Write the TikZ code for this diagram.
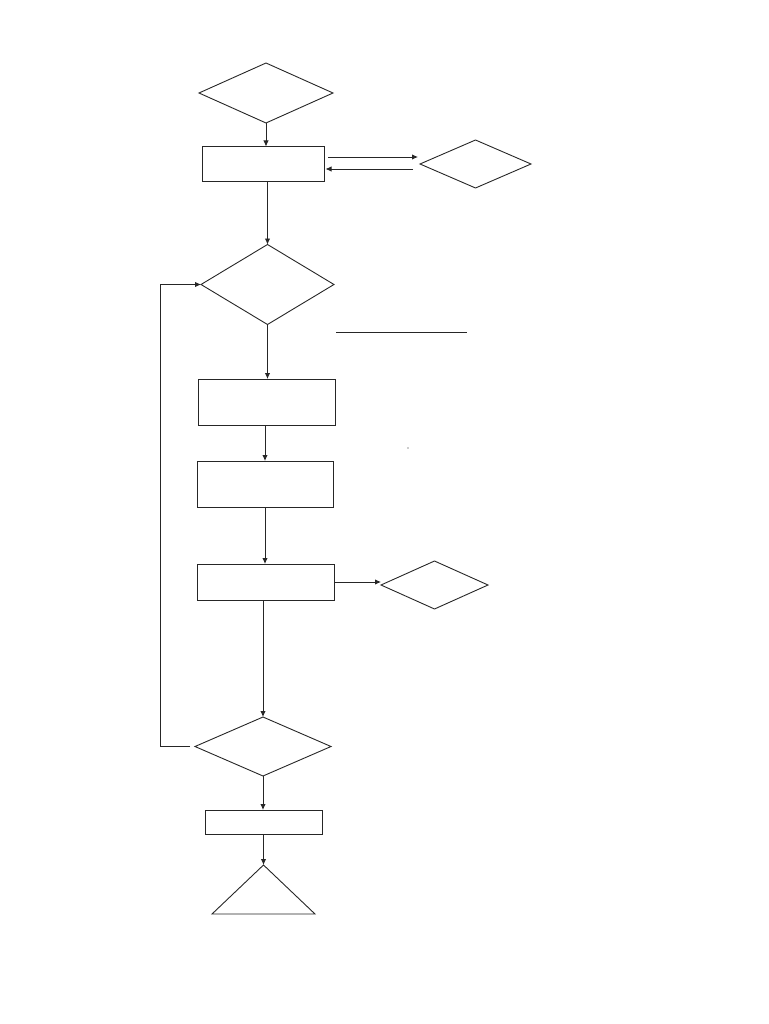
\documentclass[tikz,border=0pt]{standalone}
\usetikzlibrary{shapes.geometric,arrows.meta,calc}
\begin{document}
\begin{tikzpicture}[x=1pt,y=-1pt,
  line width=0.9pt,
  color=black!85,
  box/.style={draw,rectangle,inner sep=0,outer sep=0},
  dia/.style={draw,diamond,inner sep=0,outer sep=0},
  tri/.style={draw,isosceles triangle,isosceles triangle stretches,shape border rotate=90,inner sep=0,outer sep=0,minimum width=103pt,minimum height=49pt},
  arr/.style={-{Latex[length=6pt,width=5.5pt]}}]
\useasboundingbox (0,0) rectangle (768,1024);
\node[dia,minimum width=134pt,minimum height=60pt] (d1) at (266,93) {};
\node[box,minimum width=122pt,minimum height=35pt] (b1) at (263,164) {};
\node[dia,minimum width=111pt,minimum height=48pt] (d2) at (475.5,164) {};
\node[dia,minimum width=133pt,minimum height=80pt] (d3) at (267.5,284.5) {};
\node[box,minimum width=137pt,minimum height=46pt] (b2) at (266.5,402) {};
\node[box,minimum width=136pt,minimum height=46pt] (b3) at (265,484) {};
\node[box,minimum width=137pt,minimum height=36pt] (b4) at (265.5,582) {};
\node[dia,minimum width=107pt,minimum height=48pt] (d5) at (434.5,585) {};
\node[dia,minimum width=136pt,minimum height=59pt] (d4) at (263,746.5) {};
\node[box,minimum width=117pt,minimum height=24pt] (b5) at (263.5,822) {};
\node[tri,anchor=apex] (tri) at (263.5,865) {};
% connectors
\draw[arr] (d1.south) -- (d1.south |- b1.north);
\draw[arr] ([xshift=4pt,yshift=7pt]b1.east) -- ([xshift=-2pt,yshift=7pt]d2.west);
\draw[arr] ([xshift=-7pt,yshift=-5pt]d2.west) -- ([xshift=1.5pt,yshift=-5pt]b1.east);
\draw[arr] (b1.south -| d3.north) -- (d3.north);
\draw[arr] (d3.south) -- (d3.south |- b2.north);
\draw[arr] (b3.north |- b2.south) -- (b3.north);
\draw[arr] (b3.south) -- (b3.south |- b4.north);
\draw[arr] (b4.east) -- (b4.east -| d5.west);
\draw[arr] (d4.north |- b4.south) -- (d4.north);
\draw[arr] (d4.south) -- (d4.south |- b5.north);
\draw[arr] (b5.south) -- (tri.apex);
\draw[arr] ([xshift=-5pt]d4.west) -- ++(-30,0) |- (d3.west);
% free line and speck
\draw (336,332) -- (467,332);
\fill (408,448) circle (0.6pt);
\end{tikzpicture}
\end{document}
